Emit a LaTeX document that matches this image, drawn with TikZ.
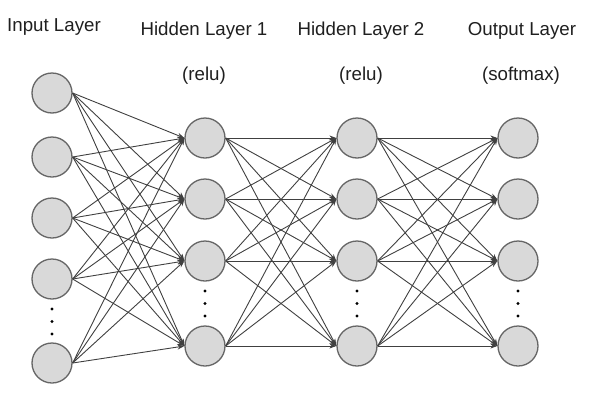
\documentclass[tikz,border=0pt]{standalone}
\usepackage{fontspec}
\setmainfont{Liberation Sans}
\usetikzlibrary{arrows.meta}

\begin{document}
\begin{tikzpicture}[x=1pt,y=-1pt,>={Stealth[length=7pt,width=5pt]},
                    link/.style={->,draw=black!75,line width=0.9pt},
                    main node/.style={circle,draw=gray!80!black,fill=gray!30,line width=1.3pt,
                                      minimum size=40pt,inner sep=0pt},
                    title/.style={anchor=base,inner sep=0pt,text=black!88,
                                  font=\fontsize{18.7}{22}\selectfont}]

  \useasboundingbox (0,0) rectangle (595,405);

  % titles
  \node[title] (tin) at (54,31) {Input Layer};
  \node[title] (th1) at (204,35) {Hidden Layer 1};
  \node[title] (th2) at (361,35) {Hidden Layer 2};
  \node[title] (tout) at (522,35) {Output Layer};
  \node[title] (f1) at (204,80) {(relu)};
  \node[title] (f2) at (361,80) {(relu)};
  \node[title] (f3) at (521,80) {(softmax)};

  % input layer
  \foreach \n/\y in {1/93,2/157,3/218,4/279,5/363}
    \node[main node] (i\n) at (52,\y) {};

  % hidden layers and output layer
  \foreach \l/\x in {a/205,b/357,o/518}
    \foreach \n/\y in {1/138,2/199,3/261,4/346}
      \node[main node] (\l\n) at (\x,\y) {};

  % dots
  \foreach \x/\y in {52/309,205/291,357/291,518/291}
    \foreach \d in {0,12.5,25}
      \fill[black] (\x,\y+\d) circle (1.6);

  % connections
  \foreach \s in {1,...,5}
    \foreach \t in {1,...,4}
      \draw[link] (i\s.east) -- (a\t.west);
  \foreach \s in {1,...,4}
    \foreach \t in {1,...,4} {
      \draw[link] (a\s.east) -- (b\t.west);
      \draw[link] (b\s.east) -- (o\t.west);
    }
\end{tikzpicture}
\end{document}
